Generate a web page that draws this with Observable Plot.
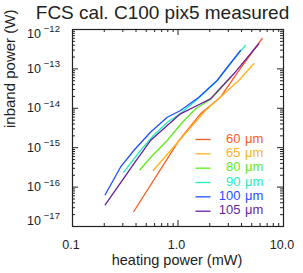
<!DOCTYPE html>
<html><head><meta charset="utf-8">
<script src="https://cdn.jsdelivr.net/npm/d3@7"></script>
<script src="https://cdn.jsdelivr.net/npm/@observablehq/plot@0.6"></script>
<style>body{margin:0;background:#fff}</style>
</head><body><div id="chart"></div>
<script>
const title = "FCS cal. C100 pix5 measured";
const xLabel = "heating power (mW)";
const yLabel = "inband power (W)";
const wavelengths = [60, 65, 80, 90, 100, 105];
const seriesColors = ["#ff5a1e", "#ffb21e", "#5aee14", "#22eebb", "#1e50ff", "#6a1e9e"];
const unit = "\u03bcm";

// heating power (mW) and inband power (W) per wavelength
const heat60  = [0.381, 1.018, 1.634, 2.53, 3.77, 6.28];
const pow60   = [2.4e-17, 1.52e-15, 7.25e-15, 1.91e-14, 9.1e-14, 5.91e-13];
const heat65  = [0.582, 1.018, 1.823, 3.77, 5.23];
const pow65   = [2.64e-16, 1.48e-15, 8.8e-15, 5.08e-14, 1.35e-13];
const heat80  = [0.435, 0.573, 0.791, 1.056, 1.465, 2.03, 3.15];
const pow80   = [2.75e-16, 6.34e-16, 1.52e-15, 3.88e-15, 9.7e-15, 1.67e-14, 6.05e-14];
const heat90  = [0.306, 0.441, 0.586, 0.791, 1.056, 1.575, 2.35, 3.03, 3.91, 4.36];
const pow90   = [2.39e-16, 8.5e-16, 2.04e-15, 4.44e-15, 7.38e-15, 1.82e-14, 5.08e-14, 1.22e-13, 2.85e-13, 3.93e-13];
const heat100 = [0.204, 0.285, 0.381, 0.548, 0.791, 1.056, 1.575, 2.35, 3.03, 3.91];
const pow100  = [6.38e-17, 3.2e-16, 8.5e-16, 2.47e-15, 5.94e-15, 8.8e-15, 1.91e-14, 5.08e-14, 1.22e-13, 2.93e-13];
const heat105 = [0.204, 0.381, 0.548, 0.791, 1.056, 1.52, 2.03, 3.38, 5.83];
const pow105  = [3.56e-17, 3.9e-16, 1.52e-15, 3.66e-15, 7.25e-15, 1.18e-14, 1.74e-14, 7.51e-14, 4.34e-13];

const xTicks = [0.1, 1, 10];
const xTickLabels = ["0.1", "1.0", "10.0"];
const xMinor = [0.2, 0.3, 0.4, 0.5, 0.6, 0.7, 0.8, 0.9, 2, 3, 4, 5, 6, 7, 8, 9];
const yTicks = [1e-17, 1e-16, 1e-15, 1e-14, 1e-13, 1e-12];
const yTickExp = ["\u221217", "\u221216", "\u221215", "\u221214", "\u221213", "\u221212"];
const yMultipliers = [2, 3, 4, 5, 6, 7, 8, 9];

const series = [[heat60, pow60], [heat65, pow65], [heat80, pow80], [heat90, pow90], [heat100, pow100], [heat105, pow105]];
const data = series.flatMap(([h, p], i) => h.map((x, j) => ({wl: wavelengths[i], x, y: p[j]})));
const yMinor = yTicks.slice(0, -1).flatMap(t => yMultipliers.map(m => t * m));

const W = 303, H = 273, mL = 72, mR = 20, mT = 29, mB = 47;
const fw = W - mL - mR, fh = H - mT - mB;
const ink = "#222";
const majorLen = 6, minorLen = 3;

function yLab(idx, dy) {
  return [
    Plot.text(idx, {y: i => yTicks[i], frameAnchor: "left", lineAnchor: "middle", dx: -45.5, dy, text: () => "10", textAnchor: "start", fontSize: 12.5, fill: ink, ariaLabel: "ytick10"}),
    Plot.text(idx, {y: i => yTicks[i], frameAnchor: "left", lineAnchor: "middle", dx: -28.7, dy: dy - 4.5, text: i => yTickExp[i], textAnchor: "start", fontSize: 9.5, fill: ink, ariaLabel: "ytickexp"})
  ];
}

const legendSymbol = {draw(ctx) { ctx.moveTo(-7.5, 0); ctx.lineTo(7.5, 0); }};
const legendMarks = wavelengths.flatMap((wl, i) => [
  Plot.dot([wl], {frameAnchor: "top-left", dx: 130.5, dy: 110 + 14.34 * i, symbol: legendSymbol, r: 3, fill: "none", stroke: seriesColors[i], strokeWidth: 1.3}),
  Plot.text([wl], {frameAnchor: "top-left", lineAnchor: "middle", dx: 168, dy: 109 + 14.34 * i, text: d => String(d), textAnchor: "end", fontSize: 13, fill: seriesColors[i], ariaLabel: "legendnum"}),
  Plot.text([wl], {frameAnchor: "top-left", lineAnchor: "middle", dx: 172.5, dy: 109 + 14.34 * i, text: () => unit, textAnchor: "start", fontSize: 13, fill: seriesColors[i], ariaLabel: "legendunit"})
]);

const chart = Plot.plot({
  width: W, height: H,
  marginLeft: mL, marginRight: mR, marginTop: mT, marginBottom: mB,
  style: {fontFamily: "'Liberation Sans', Arial, sans-serif", background: "#fff", color: ink},
  x: {type: "log", domain: [0.1, 10], axis: null},
  y: {type: "log", domain: [1e-17, 1e-12], axis: null},
  color: {domain: wavelengths, range: seriesColors},
  marks: [
    Plot.line(data, {x: "x", y: "y", z: "wl", stroke: "wl", strokeWidth: 1.3}),
    Plot.frame({stroke: ink, strokeWidth: 1.2}),
    Plot.ruleX(xTicks, {x: d => d, insetTop: fh - majorLen, stroke: ink}),
    Plot.ruleX(xTicks, {x: d => d, insetBottom: fh - majorLen, stroke: ink}),
    Plot.ruleX(xMinor, {x: d => d, insetTop: fh - minorLen, stroke: ink}),
    Plot.ruleX(xMinor, {x: d => d, insetBottom: fh - minorLen, stroke: ink}),
    Plot.ruleY(yTicks, {y: d => d, insetRight: fw - majorLen, stroke: ink}),
    Plot.ruleY(yTicks, {y: d => d, insetLeft: fw - majorLen, stroke: ink}),
    Plot.ruleY(yMinor, {y: d => d, insetRight: fw - minorLen, stroke: ink}),
    Plot.ruleY(yMinor, {y: d => d, insetLeft: fw - minorLen, stroke: ink}),
    Plot.text(xTicks, {x: d => d, frameAnchor: "bottom", lineAnchor: "middle", dx: -1.5, dy: 18, text: (d, i) => xTickLabels[i], fontSize: 12.5, fill: ink, ariaLabel: "xticklabel"}),
    ...yLab([1, 2, 3, 4], 0),
    ...yLab([5], 4),
    ...yLab([0], -6),
    Plot.text([xLabel], {frameAnchor: "bottom", lineAnchor: "middle", dx: -1, dy: 34, text: d => d, fontSize: 14.5, fill: ink, ariaLabel: "xlabel"}),
    Plot.text([yLabel], {frameAnchor: "left", lineAnchor: "middle", dx: -62.8, rotate: -90, text: d => d, fontSize: 15, fill: ink, ariaLabel: "ylabel"}),
    Plot.text([title], {frameAnchor: "top", lineAnchor: "middle", dx: -15.5, dy: -16.5, text: d => d, fontSize: 19, fill: ink, ariaLabel: "title"}),
    ...legendMarks
  ]
});

const s = d3.select(chart);
s.selectAll('g[aria-label="title"] text').attr("letter-spacing", "0.6px");
s.selectAll('g[aria-label="xlabel"] text').attr("letter-spacing", "0.8px");
s.selectAll('g[aria-label="ylabel"] text').attr("letter-spacing", "0.6px");
s.selectAll('g[aria-label="ytickexp"] text').attr("letter-spacing", "2px");
s.selectAll('g[aria-label="ytick10"] text').attr("letter-spacing", "0.8px");
s.selectAll('g[aria-label="xticklabel"] text').attr("letter-spacing", "1.2px");
s.selectAll('g[aria-label="legendnum"] text').attr("letter-spacing", "1px");
document.getElementById("chart").appendChild(chart);
</script>
</body></html>
